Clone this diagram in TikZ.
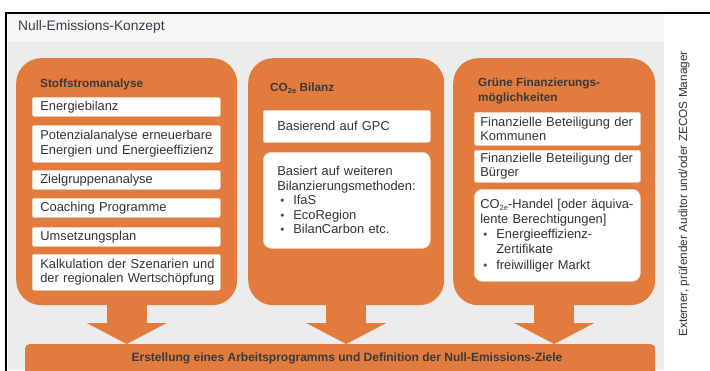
\documentclass[tikz,border=0pt]{standalone}
\usepackage{fontspec}
\usepackage{graphicx}
\setmainfont{Liberation Sans}
\usetikzlibrary{arrows.meta}
\definecolor{orng}{HTML}{E27B3E}
\definecolor{bggray}{HTML}{ECECEC}
\definecolor{band}{HTML}{F6F6F6}
\definecolor{txt}{HTML}{333333}
\definecolor{headc}{HTML}{3A3A3A}
\definecolor{titlec}{HTML}{34404F}
\definecolor{bulc}{HTML}{45505F}
\definecolor{halo}{HTML}{F3D2BC}
\newcommand\mybody{\fontsize{12.9}{14.5}\selectfont}
\newcommand\mybodyb{\fontsize{12.9}{15.2}\selectfont}
\newcommand\myhead{\fontsize{11.8}{15}\selectfont\bfseries}
\newcommand\cotwoe{CO\raisebox{-2.5pt}{\fontsize{7.5}{7.5}\selectfont 2e}}
\newcommand\mybul{\makebox[16pt][l]{\hspace{3pt}\textcolor{bulc}{\scalebox{0.9}{\textbullet}}}}
\newcommand\mbx[1]{\mbox{#1}}
\begin{document}
\begin{tikzpicture}[x=1pt,y=-1pt,
  panel/.style={fill=orng, rounded corners=25pt, inner sep=0pt, anchor=north west},
  wbox/.style={fill=white, draw=halo, line width=0.6pt, rounded corners=1.5pt, inner ysep=0pt,
     align=left, anchor=north west, font=\mybody, text=txt},
  rbox/.style={wbox, rounded corners=8pt},
  head/.style={inner sep=0pt, font=\myhead, text=headc, align=left},
  blockarrow/.style={orng, line width=40pt, -{Triangle[width=80pt,length=21pt,line width=0pt]}}
]
\useasboundingbox (0,0) rectangle (710,370);
\fill[white] (0,0) rectangle (710,370);
\fill[bggray] (8,14) rectangle (664,370);
\fill[band] (8,14) rectangle (664,42);
\draw[black, line width=1.2pt] (6,371) -- (6,13) -- (711,13);

\node[inner sep=0pt, anchor=west, font=\fontsize{13.8}{15}\selectfont, text=titlec] (title) at (18,27) {Null-Emissions-Konzept};

% panels
\node[panel, minimum width=221pt, minimum height=247pt] (p1) at (16,58) {};
\node[panel, minimum width=196pt, minimum height=247pt] (p2) at (248,58) {};
\node[panel, minimum width=202pt, minimum height=247pt] (p3) at (453,58) {};

% bottom bar
\node[fill=orng, rounded corners=4pt, inner sep=0pt, anchor=north west, minimum width=630pt, minimum height=34pt] (bar) at (25,344) {};
\node[inner sep=0pt, font=\fontsize{12}{13}\selectfont\bfseries, text=headc] (bartext) at (347,358) {Erstellung eines Arbeitsprogramms und Definition der Null-Emissions-Ziele};

% arrows
\draw[blockarrow] (p1.south) -- (p1.south |- bar.north);
\draw[blockarrow] (p2.south) -- (p2.south |- bar.north);
\draw[blockarrow] (p3.south) -- (p3.south |- bar.north);

% panel 1
\node[head, anchor=base west] (h1) at (40,87) {Stoffstromanalyse};
\begin{scope}[every node/.style={wbox, inner xsep=8pt, text width=172pt, minimum width=188pt}]
\node[minimum height=19pt] (a1) at (32,97) {\mbx{Energiebilanz}};
\node[minimum height=37pt] (a2) at (32,125) {\mbx{Potenzialanalyse erneuerbare}\\\mbx{Energien und Energieeffizienz}};
\node[minimum height=19pt] (a3) at (32,170) {\mbx{Zielgruppenanalyse}};
\node[minimum height=19pt] (a4) at (32,198) {\mbx{Coaching Programme}};
\node[minimum height=19pt] (a5) at (32,227) {\mbx{Umsetzungsplan}};
\node[minimum height=36pt] (a6) at (32,254) {\mbx{Kalkulation der Szenarien und}\\\mbx{der regionalen Wertschöpfung}};
\end{scope}

% panel 2
\node[head, anchor=base west] (h2) at (270,91) {\cotwoe\ Bilanz};
\node[wbox, inner xsep=14pt, text width=139pt, minimum width=167pt, minimum height=32pt] (b1) at (263,110) {\mbx{Basierend auf GPC}};
\node[rbox, inner xsep=14pt, text width=139pt, minimum width=167pt, minimum height=96pt] (b2) at (263,152)
  {\mbx{Basiert auf weiteren}\\\mbx{Bilanzierungsmethoden:}\\\mbx{\mybul IfaS}\\\mbx{\mybul EcoRegion}\\\mbx{\mybul BilanCarbon etc.}};

% panel 3
\node[head, anchor=north west] (h3) at (478,77.5) {Grüne Finanzierungs-\\möglichkeiten};
\node[wbox, inner xsep=6pt, text width=154pt, minimum width=166pt, minimum height=33pt] (c1) at (474,112) {\mbx{Finanzielle Beteiligung der}\\\mbx{Kommunen}};
\node[wbox, inner xsep=6pt, text width=154pt, minimum width=166pt, minimum height=32pt] (c2) at (474,150) {\mbx{Finanzielle Beteiligung der}\\\mbx{Bürger}};
\node[rbox, inner xsep=6pt, text width=154pt, minimum width=166pt, minimum height=92pt, font=\mybodyb] (c3) at (474,189)
  {\mbx{\cotwoe-Handel [oder äquiva-}\\\mbx{lente Berechtigungen]}\\\mbx{\mybul Energieeffizienz-}\\\mbx{\hspace*{16pt}Zertifikate}\\\mbx{\mybul freiwilliger Markt}};

% side label
\node[rotate=90, inner sep=0pt, font=\fontsize{11.8}{13}\selectfont, text=txt] (ext) at (684,194) {Externer, prüfender Auditor und/oder ZECOS Manager};
\end{tikzpicture}
\end{document}
